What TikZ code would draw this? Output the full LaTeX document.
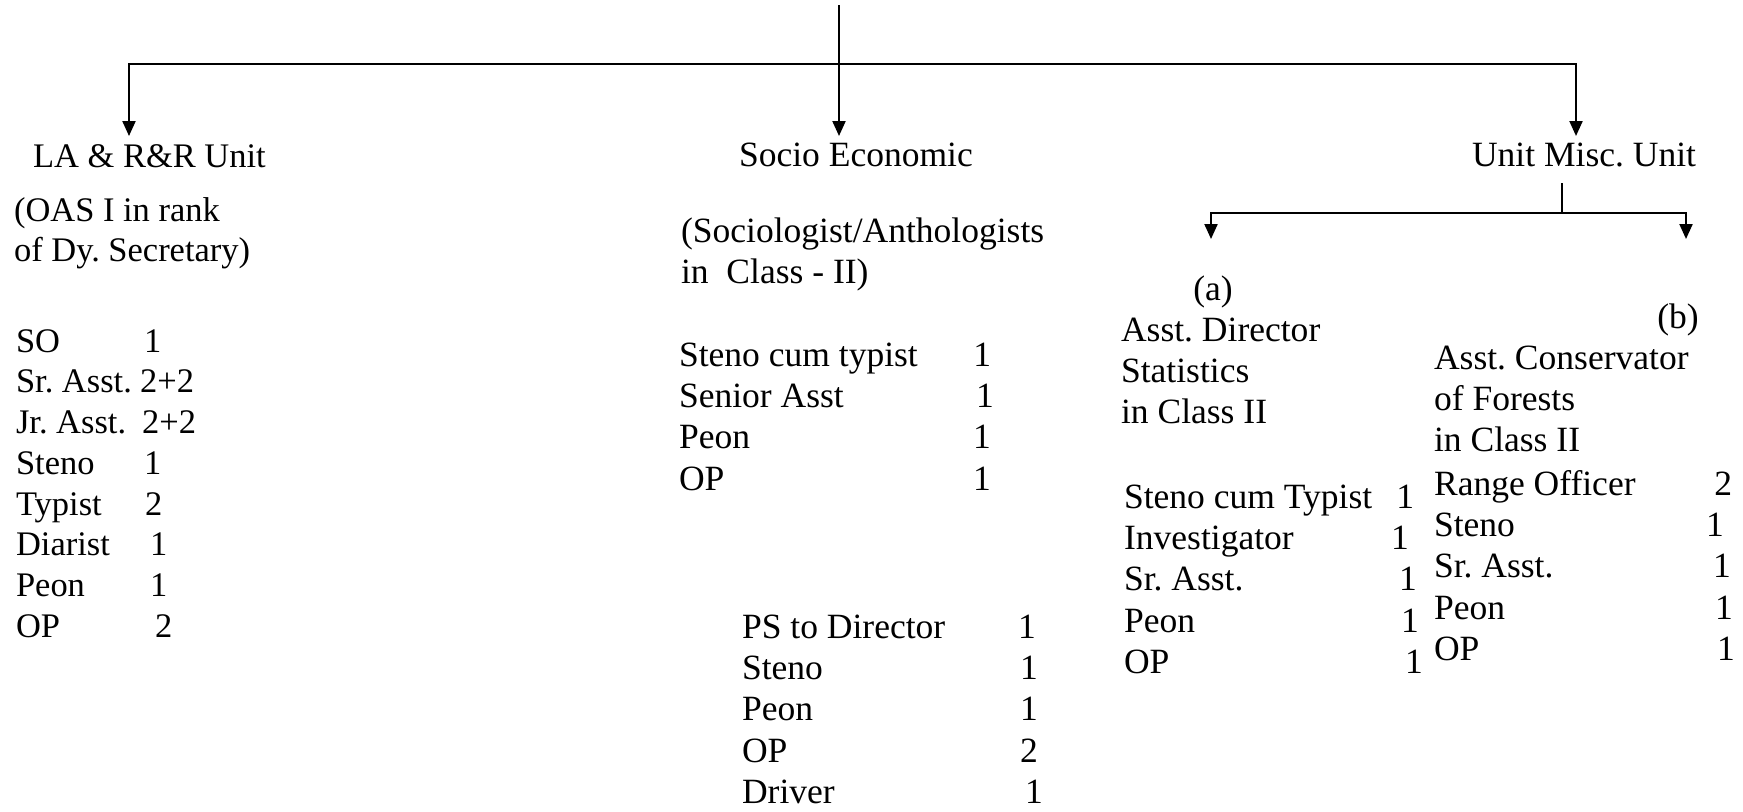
\documentclass[tikz,border=0pt]{standalone}
\usepackage{fontspec}
\setmainfont{Liberation Serif}
\usetikzlibrary{arrows.meta}
\newcommand{\orgfont}{\fontsize{10.1}{11.78}\selectfont\frenchspacing}
\newcommand{\lafont}{\fontsize{9.8}{11.6}\selectfont\frenchspacing}

\begin{document}
\begin{tikzpicture}[
    x=0.01cm, y=-0.01cm,
    line width=0.6pt,
    txt/.style={inner sep=0pt, anchor=base west, font=\orgfont},
    latxt/.style={txt, font=\lafont},
    tag/.style={inner sep=0pt, anchor=base, font=\orgfont},
    arr/.style={-{Triangle[length=0.15cm, width=0.13cm]}}
]
\useasboundingbox (0,0) rectangle (1743,811);

% ====================
% Rami principali
% ====================
\coordinate (root) at (839,5);
\coordinate (bar) at (839,64);
\coordinate (la-in) at (129,136);
\coordinate (se-in) at (839,136);
\coordinate (mu-in) at (1576,136);

\node[latxt] (la) at (32,167) {LA \& R\&R Unit};
\node[txt] (se) at (738,166) {Socio Economic};
\node[txt] (mu) at (1471,166) {Unit Misc. Unit};

\draw[arr] (root) -- (se-in);
\draw[arr] (bar) -| (la-in);
\draw[arr] (bar) -| (mu-in);

% Sotto-unita (a) e (b)
\coordinate (mu-out) at (1562,183);
\coordinate (subbar) at (1562,213);
\coordinate (a-in) at (1211,239);
\coordinate (b-in) at (1686,239);
\draw (mu-out) -- (subbar);
\draw[arr] (subbar) -| (a-in);
\draw[arr] (subbar) -| (b-in);

% ====================
% LA & R&R Unit
% ====================
\node[latxt] (la-head) at (13,221) {\begin{tabular}[t]{@{}l@{}}
(OAS I in rank\\
of Dy. Secretary)
\end{tabular}};
\node[latxt] (la-staff) at (15,352) {\begin{tabular}[t]{@{}p{1.28cm}@{}l@{}}
SO & 1\\
Sr. Asst. & \hspace{-0.4mm}2+2\\
Jr. Asst. & \hspace{-0.2mm}2+2\\
Steno & 1\\
Typist & \hspace{0.1mm}2\\
Diarist & \hspace{0.6mm}1\\
Peon & \hspace{0.6mm}1\\
OP & \hspace{1.1mm}2
\end{tabular}};

% ====================
% Socio Economic
% ====================
\node[txt] (se-head) at (680,242) {\begin{tabular}[t]{@{}l@{}}
(Sociologist/Anthologists\\
in\ \ Class - II)
\end{tabular}};
\node[txt] (se-staff) at (678,366) {\begin{tabular}[t]{@{}p{2.94cm}@{}l@{}}
Steno cum typist & 1\\
Senior Asst & \hspace{0.3mm}1\\
Peon & 1\\
OP & 1
\end{tabular}};
\node[txt] (dir-staff) at (741,638) {\begin{tabular}[t]{@{}p{2.76cm}@{}l@{}}
PS to Director & 1\\
Steno & \hspace{0.2mm}1\\
Peon & \hspace{0.2mm}1\\
OP & \hspace{0.2mm}2\\
Driver & \hspace{0.7mm}1
\end{tabular}};

% ====================
% Misc. Unit (a)
% ====================
\node[tag] (a-tag) at (1213,300) {(a)};
\node[txt] (a-head) at (1120,341) {\begin{tabular}[t]{@{}l@{}}
Asst. Director\\
Statistics\\
in Class II
\end{tabular}};
\node[txt] (a-staff) at (1123,508) {\begin{tabular}[t]{@{}p{2.67cm}@{}l@{}}
Steno cum Typist & \hspace{0.5mm}1\\
Investigator & 1\\
Sr. Asst. & \hspace{0.8mm}1\\
Peon & \hspace{1mm}1\\
OP & \hspace{1.4mm}1
\end{tabular}};

% ====================
% Misc. Unit (b)
% ====================
\node[tag] (b-tag) at (1678,328) {(b)};
\node[txt] (b-head) at (1433,369) {\begin{tabular}[t]{@{}l@{}}
Asst. Conservator\\
of Forests\\
in Class II
\end{tabular}};
\node[txt] (b-staff) at (1433,495) {\begin{tabular}[t]{@{}p{2.72cm}@{}l@{}}
Range Officer & \hspace{0.8mm}2\\
Steno & 1\\
Sr. Asst. & \hspace{0.7mm}1\\
Peon & \hspace{0.9mm}1\\
OP & \hspace{1.1mm}1
\end{tabular}};

\end{tikzpicture}
\end{document}
